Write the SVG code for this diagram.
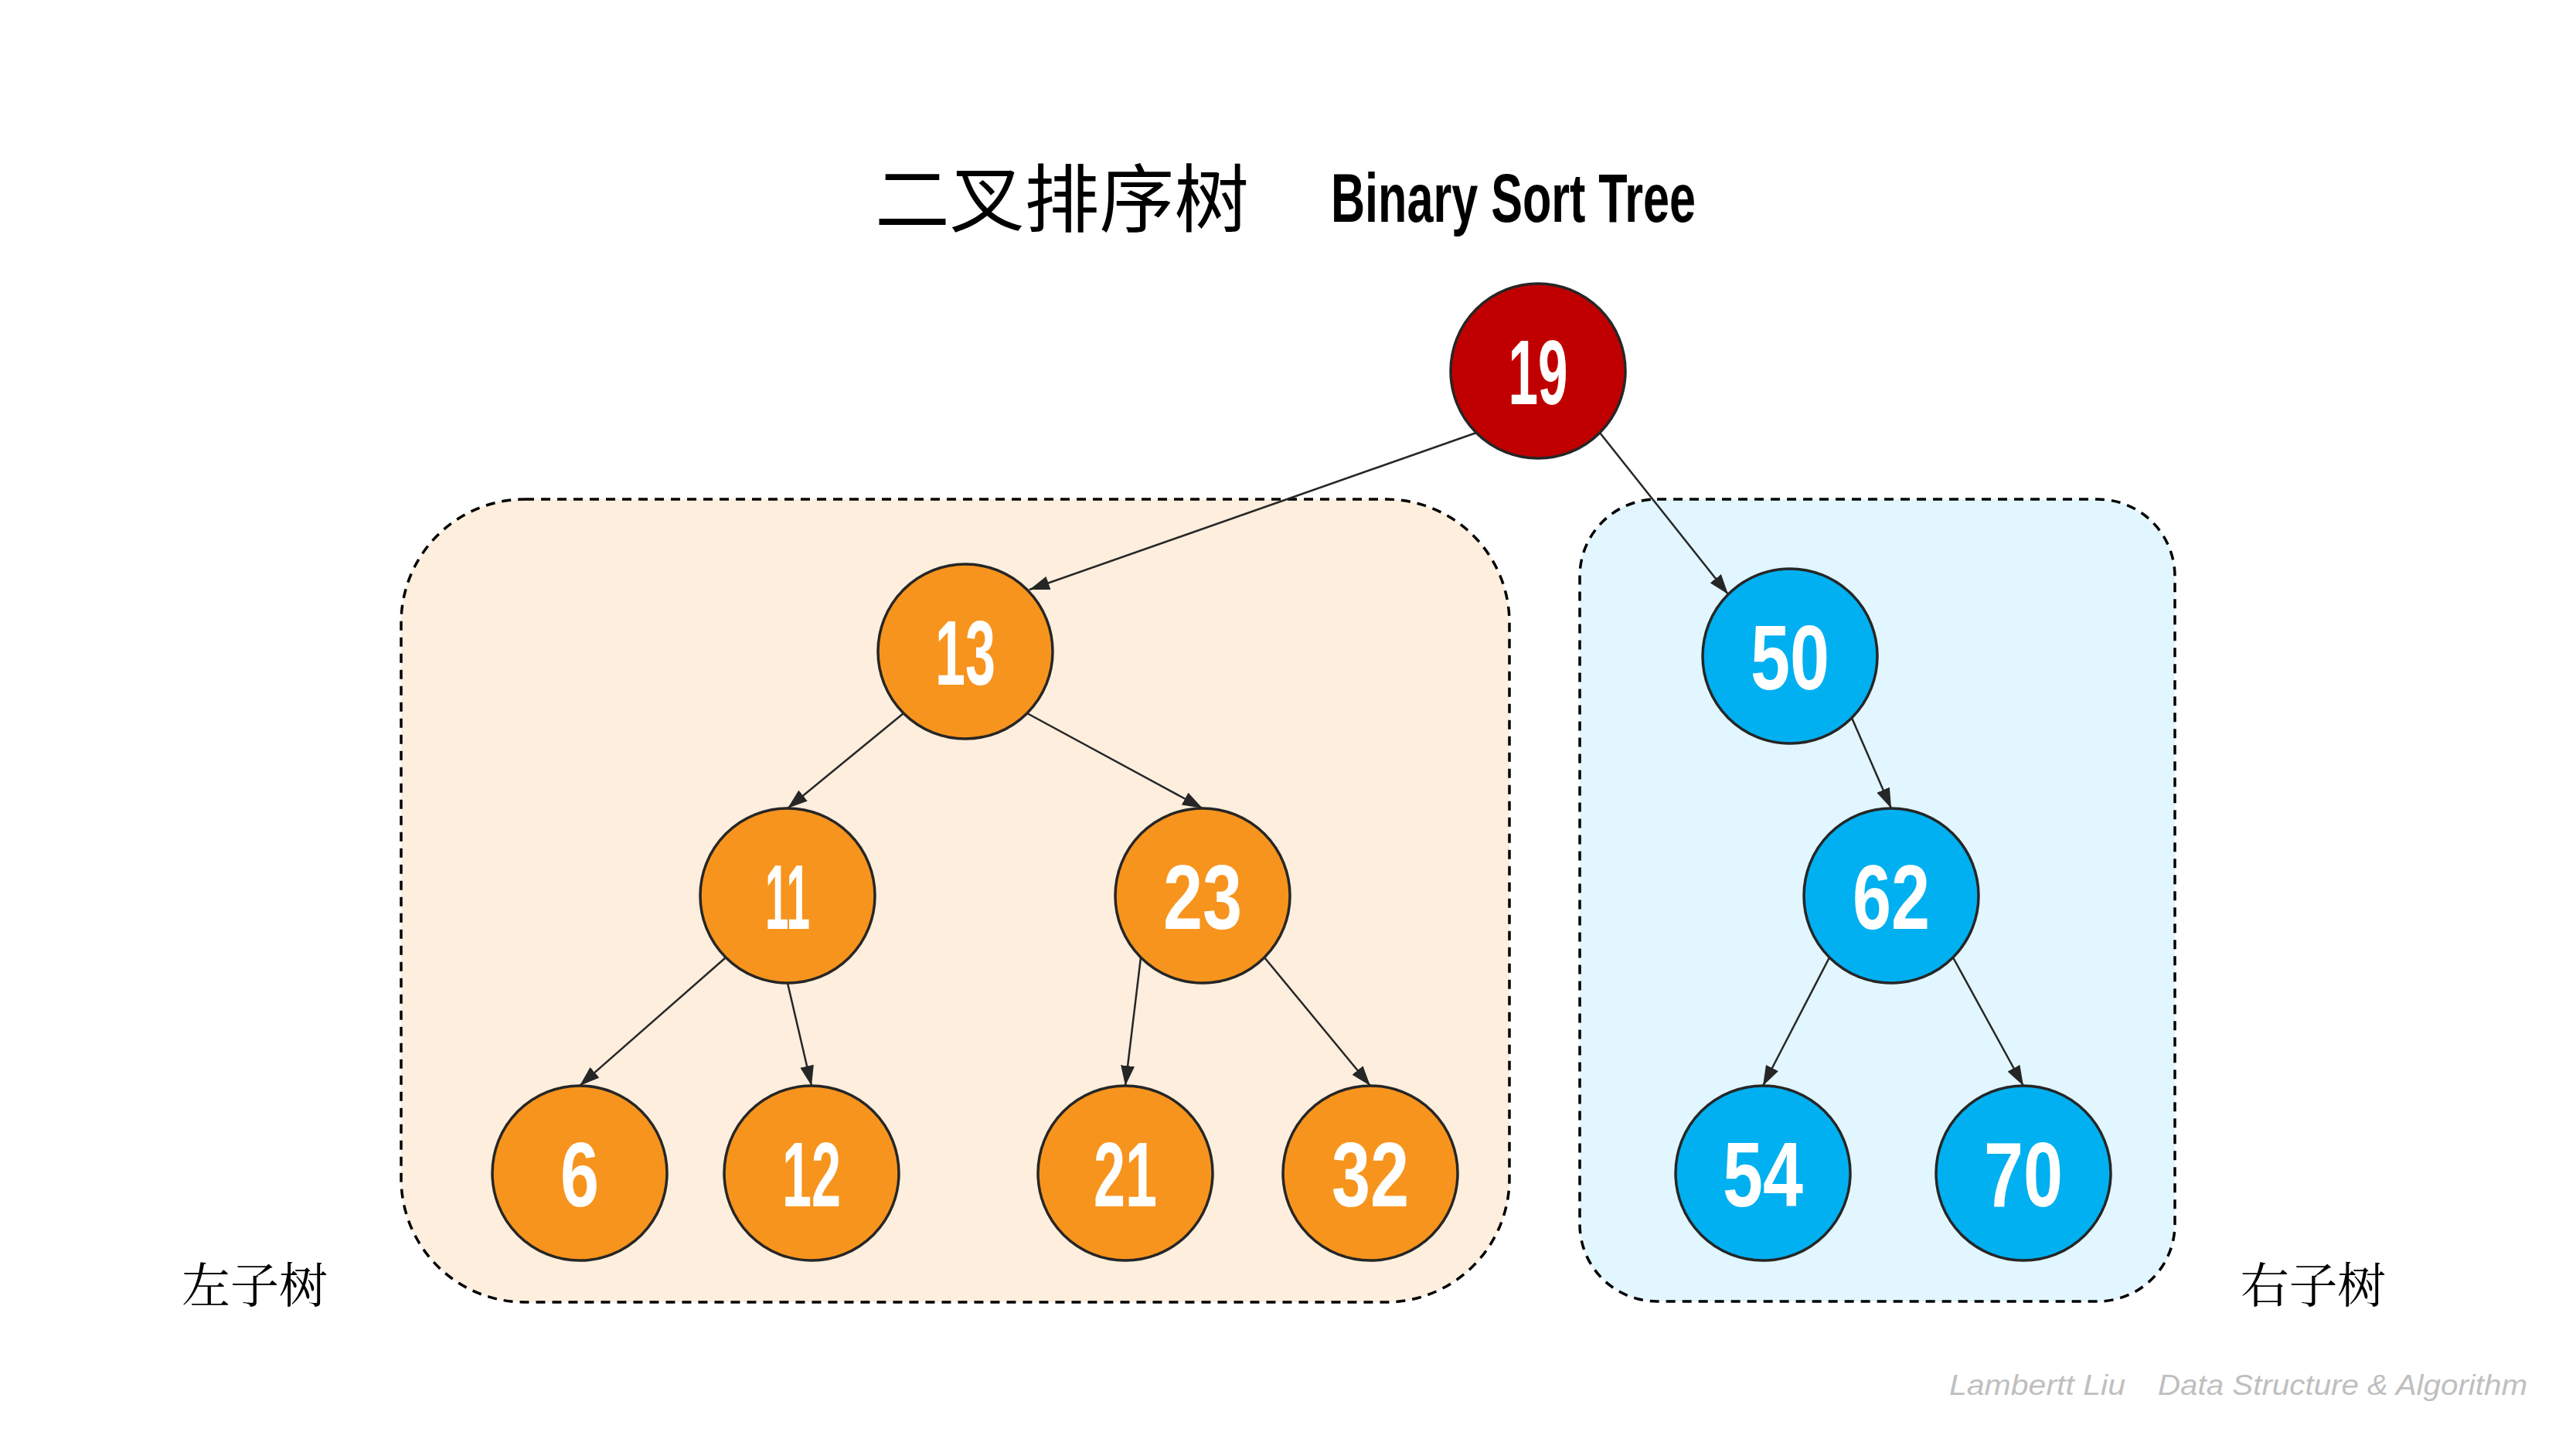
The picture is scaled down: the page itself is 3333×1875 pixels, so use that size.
<svg xmlns="http://www.w3.org/2000/svg" width="3333" height="1875" viewBox="0 0 3333 1875">
<style>
.bg{fill:#FFFFFF}
.box{stroke:#000000;stroke-width:3.5;stroke-dasharray:12 9}
.obox{fill:#FDEEDD}
.bbox{fill:#E1F6FE}
.node circle{stroke:#262626;stroke-width:3.5}
.org circle{fill:#F7941D}
.blu circle{fill:#00B0F0}
.red circle{fill:#C00000}
.num{font-family:"Liberation Sans",Arial,sans-serif;font-weight:bold;font-size:118px;fill:#FFFFFF;text-anchor:middle}
.edge{stroke:#262626;stroke-width:2.5;fill:none;marker-end:url(#arr)}
.title-cn{font-family:"Noto Sans CJK SC","Noto Sans CJK TC",sans-serif;font-size:96px;fill:#000000}
.title-en{font-family:"Liberation Sans",Arial,sans-serif;font-weight:bold;font-size:89px;fill:#000000}
.sub{font-family:"Noto Serif CJK SC","Noto Sans CJK SC",serif;font-size:62px;fill:#000000}
.wm{font-family:"Liberation Sans",Arial,sans-serif;font-style:italic;font-size:36px;fill:#BFBFBF}
</style>
<defs>
<marker id="arr" markerUnits="userSpaceOnUse" markerWidth="26" markerHeight="18" refX="26" refY="9" orient="auto">
<path d="M0,0 L26,9 L0,18 z" fill="#262626"/>
</marker>
</defs>
<rect class="bg" x="0" y="0" width="3333" height="1875"/>

<g id="titles">
<text class="title-cn" x="1132" y="292" textLength="484" lengthAdjust="spacingAndGlyphs">二叉排序树</text>
<text class="title-en" x="1722" y="287" textLength="472" lengthAdjust="spacingAndGlyphs">Binary Sort Tree</text>
</g>

<g id="left-subtree-box">
<rect class="box obox" x="519" y="646" width="1434" height="1039" rx="160" ry="160"/>
</g>
<g id="right-subtree-box">
<rect class="box bbox" x="2044" y="646" width="770" height="1038" rx="100" ry="100"/>
</g>

<g id="connectors">
<line class="edge" x1="1910" y1="560" x2="1332" y2="763"/>
<line class="edge" x1="2070" y1="560" x2="2236" y2="769"/>
<line class="edge" x1="1169" y1="923" x2="1019" y2="1046"/>
<line class="edge" x1="1329" y1="923" x2="1556" y2="1046"/>
<line class="edge" x1="939" y1="1239" x2="750" y2="1405"/>
<line class="edge" x1="1019" y1="1272" x2="1050" y2="1405"/>
<line class="edge" x1="1476" y1="1239" x2="1456" y2="1405"/>
<line class="edge" x1="1636" y1="1239" x2="1773" y2="1405"/>
<line class="edge" x1="2396" y1="929" x2="2447" y2="1046"/>
<line class="edge" x1="2367" y1="1239" x2="2281" y2="1405"/>
<line class="edge" x1="2527" y1="1239" x2="2618" y2="1405"/>
</g>

<g id="n19" class="node red"><circle cx="1990" cy="480" r="113"/><text class="num" x="1990" y="523" textLength="77" lengthAdjust="spacingAndGlyphs">19</text></g>
<g id="n13" class="node org"><circle cx="1249" cy="843" r="113"/><text class="num" x="1249" y="886" textLength="78" lengthAdjust="spacingAndGlyphs">13</text></g>
<g id="n50" class="node blu"><circle cx="2316" cy="849" r="113"/><text class="num" x="2316" y="892" textLength="102" lengthAdjust="spacingAndGlyphs">50</text></g>
<g id="n11" class="node org"><circle cx="1019" cy="1159" r="113"/><text class="num" x="1019" y="1202" textLength="58" lengthAdjust="spacingAndGlyphs">11</text></g>
<g id="n23" class="node org"><circle cx="1556" cy="1159" r="113"/><text class="num" x="1556" y="1202" textLength="102" lengthAdjust="spacingAndGlyphs">23</text></g>
<g id="n62" class="node blu"><circle cx="2447" cy="1159" r="113"/><text class="num" x="2447" y="1202" textLength="100" lengthAdjust="spacingAndGlyphs">62</text></g>
<g id="n6" class="node org"><circle cx="750" cy="1518" r="113"/><text class="num" x="750" y="1561" textLength="50" lengthAdjust="spacingAndGlyphs">6</text></g>
<g id="n12" class="node org"><circle cx="1050" cy="1518" r="113"/><text class="num" x="1050" y="1561" textLength="76" lengthAdjust="spacingAndGlyphs">12</text></g>
<g id="n21" class="node org"><circle cx="1456" cy="1518" r="113"/><text class="num" x="1456" y="1561" textLength="82" lengthAdjust="spacingAndGlyphs">21</text></g>
<g id="n32" class="node org"><circle cx="1773" cy="1518" r="113"/><text class="num" x="1773" y="1561" textLength="100" lengthAdjust="spacingAndGlyphs">32</text></g>
<g id="n54" class="node blu"><circle cx="2281" cy="1518" r="113"/><text class="num" x="2281" y="1561" textLength="104" lengthAdjust="spacingAndGlyphs">54</text></g>
<g id="n70" class="node blu"><circle cx="2618" cy="1518" r="113"/><text class="num" x="2618" y="1561" textLength="102" lengthAdjust="spacingAndGlyphs">70</text></g>

<g id="labels">
<text class="sub" x="235" y="1686" textLength="189" lengthAdjust="spacingAndGlyphs">左子树</text>
<text class="sub" x="2899" y="1686" textLength="188" lengthAdjust="spacingAndGlyphs">右子树</text>
</g>

<g id="watermark">
<text class="wm" x="2522" y="1805" textLength="228" lengthAdjust="spacingAndGlyphs">Lambertt Liu</text>
<text class="wm" x="2792" y="1805" textLength="478" lengthAdjust="spacingAndGlyphs">Data Structure &amp; Algorithm</text>
</g>
</svg>
